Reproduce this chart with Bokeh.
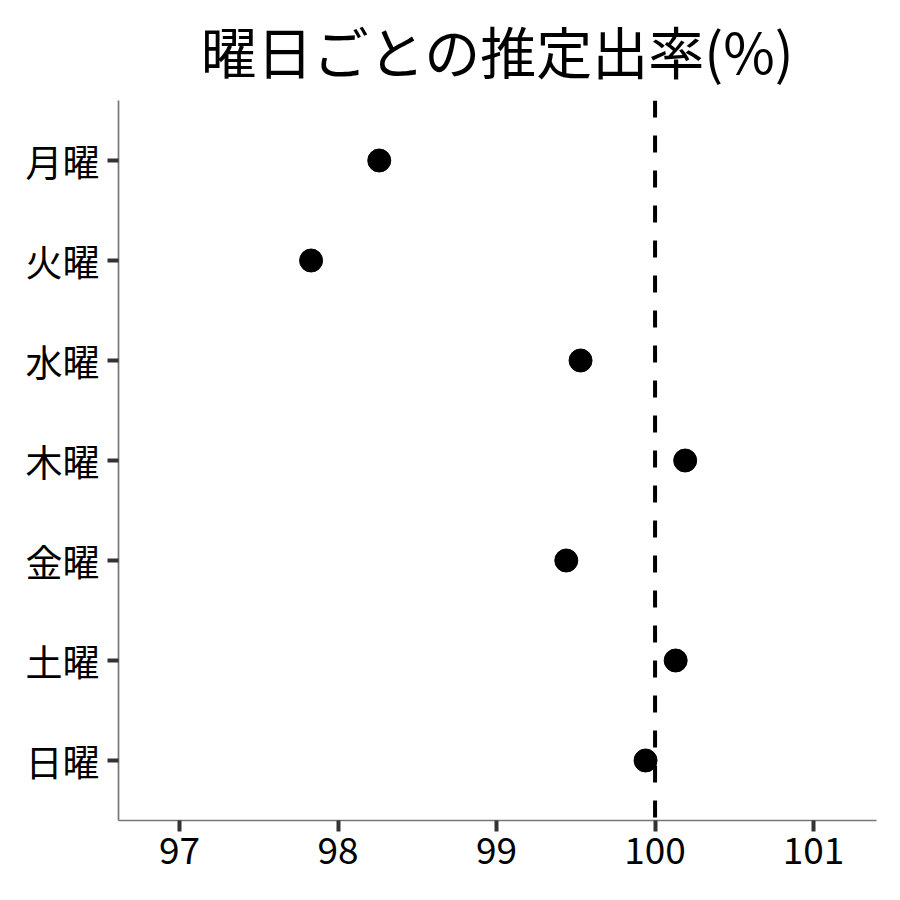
from bokeh.plotting import figure
from bokeh.models import Range1d, FixedTicker, Span, ColumnDataSource
from bokeh.embed import file_html
from bokeh.resources import INLINE

# data
title_text = "曜日ごとの推定出率(%)"
days = ["月曜", "火曜", "水曜", "木曜", "金曜", "土曜", "日曜"]
rates = [98.26, 97.83, 99.53, 100.19, 99.44, 100.13, 99.94]
x_ticks = [97, 98, 99, 100, 101]
ref_value = 100

n = len(days)
ypos = [n - i for i in range(n)]  # 月曜 at top
src = ColumnDataSource(dict(x=rates, y=ypos, day=days))

FONT = "Noto Sans CJK JP"
x_lo, x_hi = 96.615, 101.397
y_lo, y_hi = 0.4, n + 0.6

p = figure(width=892, height=892, output_backend="svg", toolbar_location=None,
           x_range=Range1d(x_lo, x_hi), y_range=Range1d(y_lo, y_hi),
           title=title_text,
           min_border_left=118, min_border_right=16, min_border_top=100, min_border_bottom=72)

p.title.text_font = FONT
p.title.text_font_size = "56px"
p.title.text_font_style = "normal"
p.title.align = "center"
p.title.vertical_align = "top"
p.title.text_color = "black"
p.title.standoff = 17

p.grid.visible = False
p.outline_line_color = None
p.background_fill_color = "white"

p.xaxis.ticker = FixedTicker(ticks=x_ticks)
p.yaxis.ticker = FixedTicker(ticks=ypos)
p.yaxis.major_label_overrides = {yv: d for yv, d in zip(ypos, days)}

for ax in (p.xaxis[0], p.yaxis[0]):
    ax.axis_line_color = "#777777"
    ax.axis_line_width = 1.7
    ax.major_tick_line_color = "#333333"
    ax.major_tick_line_width = 4
    ax.major_tick_in = 0
    ax.major_tick_out = 11
    ax.minor_tick_line_color = None
    ax.major_label_text_font = FONT
    ax.major_label_text_font_size = "37px"
    ax.major_label_text_color = "black"
p.xaxis.major_label_standoff = 5
p.yaxis.major_label_standoff = 8

vline = Span(location=ref_value, dimension="height", line_color="black",
             line_width=4, line_dash="17 18")
p.add_layout(vline)

p.scatter("x", "y", source=src, size=23, color="black")

open("out.html", "w").write(file_html(p, INLINE))
